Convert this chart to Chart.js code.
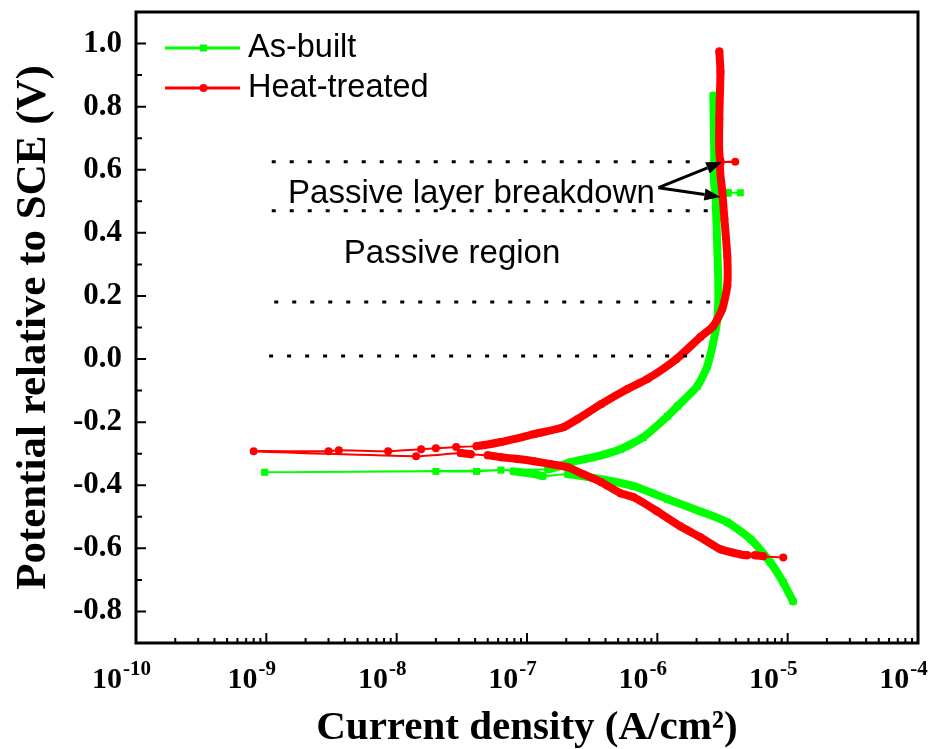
<!DOCTYPE html>
<html>
<head>
<meta charset="utf-8">
<script src="https://cdn.jsdelivr.net/npm/chart.js@4.4.1/dist/chart.umd.min.js"></script>
<style>
  html, body { margin: 0; padding: 0; background: #fff; }
  #wrap { width: 934px; height: 749px; position: relative; }
</style>
</head>
<body>
<div id="wrap"><canvas id="chart"></canvas></div>
<script>
// scan order: cathodic end -> Ecorr -> anodic end (current in A/cm2, potential in V vs SCE)
const asBuiltCurrent = [1.10e-5, 9.25e-6, 7.35e-6, 5.2e-6, 3.44e-6, 2.14e-6, 1.20e-6, 6.6e-7, 3.7e-7, 2.06e-7,
  1.32e-7, 1.17e-7, 9.0e-8, 7.9e-8, 6.3e-8, 4.1e-8, 2.0e-8, 9.7e-10, 1.45e-7, 2.17e-7,
  3.5e-7, 5.2e-7, 7.8e-7, 1.20e-6, 1.43e-6, 2.03e-6, 2.42e-6, 2.69e-6, 2.89e-6, 2.94e-6,
  2.84e-6, 2.84e-6, 3.5e-6, 4.33e-6, 2.79e-6, 2.74e-6, 2.69e-6];
const asBuiltPotential = [-0.768, -0.708, -0.644, -0.571, -0.517, -0.483, -0.444, -0.403, -0.381, -0.365,
  -0.371, -0.365, -0.359, -0.356, -0.352, -0.356, -0.356, -0.359, -0.349, -0.327,
  -0.308, -0.286, -0.248, -0.181, -0.149, -0.086, -0.022, 0.054, 0.127, 0.232,
  0.444, 0.521, 0.527, 0.527, 0.533, 0.635, 0.835];

const heatTreatedCurrent = [9.25e-6, 6.5e-6, 5.6e-6, 4.9e-6, 4.3e-6, 3.05e-6, 2.14e-6, 1.5e-6, 1.0e-6, 6.6e-7,
  5.2e-7, 3.7e-7, 2.7e-7, 2.06e-7, 1.52e-7, 1.13e-7, 8.5e-8, 6.3e-8, 5.0e-8, 3.7e-8,
  3.1e-8, 1.41e-8, 8.0e-10, 3.0e-9, 3.6e-9, 8.6e-9, 1.54e-8, 2.0e-8, 2.86e-8, 4.1e-8,
  6.3e-8, 1.13e-7, 1.9e-7, 2.45e-7, 3.7e-7, 5.9e-7, 8.4e-7, 1.4e-6, 2.14e-6, 2.69e-6,
  3.15e-6, 3.44e-6, 3.44e-6, 3.27e-6, 3.15e-6, 3.05e-6, 3.96e-6, 3.05e-6, 2.99e-6, 3.05e-6, 2.99e-6];
const heatTreatedPotential = [-0.629, -0.625, -0.622, -0.622, -0.619, -0.603, -0.565, -0.530, -0.483, -0.438,
  -0.425, -0.390, -0.365, -0.343, -0.333, -0.324, -0.317, -0.311, -0.305, -0.302,
  -0.298, -0.308, -0.292, -0.292, -0.289, -0.292, -0.286, -0.283, -0.279, -0.276,
  -0.263, -0.238, -0.216, -0.190, -0.143, -0.095, -0.063, 0.0, 0.070, 0.105,
  0.159, 0.232, 0.327, 0.444, 0.530, 0.622, 0.625, 0.628, 0.762, 0.911, 0.975];

const xTickValues = [1e-10, 1e-9, 1e-8, 1e-7, 1e-6, 1e-5, 1e-4];
const yTickValues = [-0.8, -0.6, -0.4, -0.2, 0.0, 0.2, 0.4, 0.6, 0.8, 1.0];

// dotted guide levels and their current span
const guideLevels = [0.625, 0.47, 0.181, 0.01];
const guideStart = [1.1e-9, 1.1e-9, 1.15e-9, 1.05e-9];
const guideEnd = [2.15e-6, 2.64e-6, 2.67e-6, 2.27e-6];

const SERIF = '"Liberation Serif", "Times New Roman", serif';
const SANS = '"Liberation Sans", Arial, sans-serif';
const GREEN = '#00ff00';
const RED = '#ff0000';

const pts = (xs, ys) => xs.map((x, i) => ({ x: x, y: ys[i] }));

// shallow (nearly horizontal) segments are sparse data -> thin line, steep ones dense -> thick band
const segWidth = ctx => {
  const dx = Math.abs(ctx.p1.x - ctx.p0.x);
  const dy = Math.abs(ctx.p1.y - ctx.p0.y);
  return dy < 0.1 * dx ? 2 : 8;
};

const decorPlugin = {
  id: 'decor',
  afterDatasetsDraw(chart) {
    const { ctx, scales: { x, y } } = chart;
    ctx.save();
    // dotted guides
    ctx.strokeStyle = '#000';
    ctx.lineWidth = 3;
    ctx.setLineDash([4, 14]);
    guideLevels.forEach((lv, i) => {
      const py = y.getPixelForValue(lv);
      ctx.beginPath();
      ctx.moveTo(x.getPixelForValue(guideStart[i]), py);
      ctx.lineTo(x.getPixelForValue(guideEnd[i]), py);
      ctx.stroke();
    });
    ctx.setLineDash([]);

    // annotations
    ctx.fillStyle = '#000';
    ctx.font = '33px ' + SANS;
    ctx.textAlign = 'center';
    ctx.textBaseline = 'middle';
    ctx.fillText('Passive layer breakdown', x.getPixelForValue(3.75e-8), y.getPixelForValue(0.522));
    ctx.fillText('Passive region', x.getPixelForValue(2.66e-8), y.getPixelForValue(0.332));

    // arrows
    const ox = x.getPixelForValue(1.02e-6), oy = y.getPixelForValue(0.543);
    [[3.15e-6, 0.625], [3.05e-6, 0.514]].forEach(([tx, ty]) => {
      const px = x.getPixelForValue(tx), py = y.getPixelForValue(ty);
      const ang = Math.atan2(py - oy, px - ox);
      const hl = 16, hw = 6;
      const bx = px - hl * Math.cos(ang), by = py - hl * Math.sin(ang);
      ctx.lineWidth = 3;
      ctx.beginPath();
      ctx.moveTo(ox, oy);
      ctx.lineTo(bx, by);
      ctx.stroke();
      ctx.beginPath();
      ctx.moveTo(px, py);
      ctx.lineTo(bx + hw * Math.sin(ang), by - hw * Math.cos(ang));
      ctx.lineTo(bx - hw * Math.sin(ang), by + hw * Math.cos(ang));
      ctx.closePath();
      ctx.fill();
    });

    // legend
    const lx0 = 165, lx1 = 240;
    ctx.font = '32.5px ' + SANS;
    chart.data.datasets.forEach((ds, i) => {
      const ly = 48 + i * 40;
      ctx.strokeStyle = ds.borderColor;
      ctx.lineWidth = 3;
      ctx.beginPath();
      ctx.moveTo(lx0, ly);
      ctx.lineTo(lx1, ly);
      ctx.stroke();
      ctx.fillStyle = ds.borderColor;
      const mx = (lx0 + lx1) / 2 + 1;
      if (ds.pointStyle === 'rect') {
        ctx.fillRect(mx - 3.5, ly - 3.5, 7, 7);
      } else {
        ctx.beginPath();
        ctx.arc(mx, ly, 4, 0, Math.PI * 2);
        ctx.fill();
      }
      ctx.fillStyle = '#000';
      ctx.textAlign = 'left';
      ctx.fillText(ds.label, 248, ly);
    });
    ctx.restore();
  },
  afterDraw(chart) {
    const { ctx, chartArea: a, scales: { x, y } } = chart;
    ctx.save();
    ctx.strokeStyle = '#000';
    ctx.lineWidth = 3;
    ctx.strokeRect(a.left, a.top, a.right - a.left, a.bottom - a.top);
    ctx.lineWidth = 2;
    ctx.beginPath();
    // x ticks (inward, bottom axis)
    for (let d = -10; d < -4; d++) {
      for (let k = 1; k < 10; k++) {
        const px = x.getPixelForValue(k * Math.pow(10, d));
        if (px <= a.left + 1) continue;
        const len = k === 1 ? 10 : 5;
        ctx.moveTo(px, a.bottom);
        ctx.lineTo(px, a.bottom - len);
      }
    }
    // y ticks (inward, left axis)
    yTickValues.forEach(v => {
      const py = y.getPixelForValue(v);
      ctx.moveTo(a.left, py);
      ctx.lineTo(a.left + 10, py);
      const pm = y.getPixelForValue(v + 0.1);
      if (pm > a.top + 2) {
        ctx.moveTo(a.left, pm);
        ctx.lineTo(a.left + 6, pm);
      }
    });
    ctx.stroke();

    // x tick labels: 10 with superscript exponent
    ctx.fillStyle = '#000';
    ctx.textBaseline = 'alphabetic';
    const base = a.bottom + 45;
    xTickValues.forEach(v => {
      const exp = String(Math.round(Math.log10(v)));
      ctx.font = 'bold 30px ' + SERIF;
      const w1 = ctx.measureText('10').width;
      ctx.font = 'bold 21px ' + SERIF;
      const w2 = ctx.measureText(exp).width;
      const left = x.getPixelForValue(v) - 15 - (w1 + w2) / 2;
      ctx.textAlign = 'left';
      ctx.font = 'bold 30px ' + SERIF;
      ctx.fillText('10', left, base);
      ctx.font = 'bold 21px ' + SERIF;
      ctx.fillText(exp, left + w1 + 1, base - 13);
    });
    ctx.restore();
  }
};

new Chart(document.getElementById('chart'), {
  type: 'line',
  data: {
    datasets: [
      {
        label: 'As-built',
        data: pts(asBuiltCurrent, asBuiltPotential),
        borderColor: GREEN,
        backgroundColor: GREEN,
        pointStyle: 'rect',
        pointRadius: 5,
        pointBorderWidth: 0,
        pointBackgroundColor: GREEN,
        borderWidth: 8,
        borderCapStyle: 'round',
        borderJoinStyle: 'round',
        tension: 0.2,
        order: 2,
        segment: { borderWidth: segWidth }
      },
      {
        label: 'Heat-treated',
        data: pts(heatTreatedCurrent, heatTreatedPotential),
        borderColor: RED,
        backgroundColor: RED,
        pointStyle: 'circle',
        pointRadius: 4,
        pointBorderWidth: 0,
        pointBackgroundColor: RED,
        borderWidth: 8,
        borderCapStyle: 'round',
        borderJoinStyle: 'round',
        tension: 0.2,
        order: 1,
        segment: { borderWidth: segWidth }
      }
    ]
  },
  options: {
    responsive: true,
    maintainAspectRatio: false,
    animation: false,
    devicePixelRatio: 1,
    layout: { padding: { top: 12, right: 16, left: 0, bottom: 0 } },
    plugins: {
      legend: { display: false },
      tooltip: { enabled: false }
    },
    scales: {
      x: {
        type: 'logarithmic',
        min: 1e-10,
        max: 1e-4,
        grid: { display: false, drawTicks: false },
        border: { display: false },
        afterBuildTicks: s => { s.ticks = xTickValues.map(v => ({ value: v })); },
        afterFit: s => { s.height = 106; s.paddingLeft = 0; s.paddingRight = 0; },
        ticks: { display: false },
        title: {
          display: true,
          text: 'Current density (A/cm\u00B2)',
          color: '#000',
          font: { family: SERIF, size: 41, weight: 'bold', lineHeight: 1 },
          padding: { top: 0, bottom: 0 }
        }
      },
      y: {
        type: 'linear',
        min: -0.9,
        max: 1.1,
        grid: { display: false, drawTicks: false },
        border: { display: false },
        afterBuildTicks: s => { s.ticks = yTickValues.map(v => ({ value: v })); },
        afterFit: s => { s.width = 136; s.paddingTop = 0; s.paddingBottom = 0; },
        ticks: {
          padding: 14,
          color: '#000',
          font: { family: SERIF, size: 31, weight: 'bold' },
          callback: v => v.toFixed(1)
        },
        title: {
          display: true,
          text: 'Potential relative to SCE (V)',
          color: '#000',
          font: { family: SERIF, size: 43, weight: 'bold', lineHeight: 1 },
          padding: { top: 12, bottom: 0 }
        }
      }
    }
  },
  plugins: [decorPlugin]
});
</script>
</body>
</html>
